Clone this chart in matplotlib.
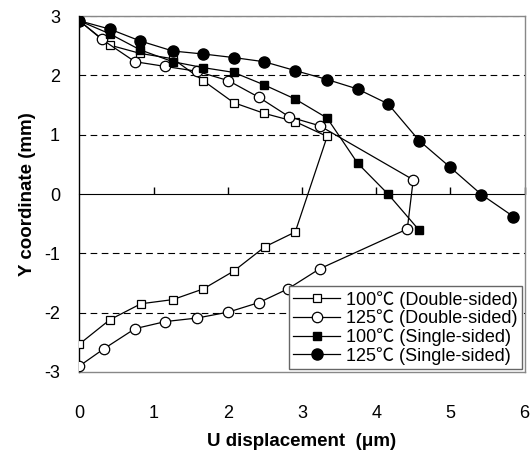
import matplotlib
matplotlib.use("Agg")
import matplotlib.pyplot as plt

plt.rcParams['font.family'] = ['Liberation Sans', 'Noto Sans CJK SC', 'DejaVu Sans']
plt.rcParams['axes.unicode_minus'] = False

# 100 C double-sided (open squares)
x_100d = [0, 0.41, 0.82, 1.26, 1.67, 2.08, 2.49, 2.91, 3.34, 2.91, 2.50, 2.08, 1.67, 1.26, 0.83, 0.41, 0]
y_100d = [2.92, 2.51, 2.37, 2.28, 1.91, 1.54, 1.36, 1.22, 0.97, -0.64, -0.89, -1.30, -1.60, -1.78, -1.85, -2.12, -2.53]

# 125 C double-sided (open circles)
x_125d = [0, 0.30, 0.75, 1.16, 1.58, 2.01, 2.42, 2.83, 3.24, 4.50, 4.42, 3.24, 2.81, 2.42, 2.01, 1.59, 1.16, 0.75, 0.33, 0]
y_125d = [2.92, 2.61, 2.23, 2.15, 2.07, 1.91, 1.63, 1.30, 1.15, 0.24, -0.59, -1.26, -1.60, -1.83, -1.99, -2.09, -2.15, -2.27, -2.61, -2.90]

# 100 C single-sided (filled squares)
x_100s = [0, 0.41, 0.82, 1.26, 1.67, 2.08, 2.49, 2.91, 3.34, 3.75, 4.16, 4.58]
y_100s = [2.92, 2.70, 2.43, 2.23, 2.13, 2.05, 1.84, 1.60, 1.28, 0.52, 0.0, -0.61]

# 125 C single-sided (filled circles)
x_125s = [0, 0.41, 0.82, 1.26, 1.67, 2.08, 2.49, 2.91, 3.34, 3.75, 4.16, 4.58, 4.99, 5.42, 5.85]
y_125s = [2.92, 2.78, 2.58, 2.41, 2.36, 2.30, 2.23, 2.08, 1.93, 1.77, 1.52, 0.90, 0.46, -0.01, -0.38]

labels = ["100\u2103 (Double-sided)", "125\u2103 (Double-sided)",
          "100\u2103 (Single-sided)", "125\u2103 (Single-sided)"]

fig = plt.figure(figsize=(5.31, 4.58), dpi=100)
ax = fig.add_axes([0.1494, 0.1878, 0.8384, 0.7772])

for yv in [-2, -1, 1, 2, 3]:
    ax.axhline(yv, color="#555555" if yv == 3 else "black", lw=0.8,
               dashes=(6, 4), zorder=1)

lw = 0.9
ax.plot(x_100d, y_100d, color="black", lw=lw, marker="s", ms=5.5,
        mfc="white", mec="black", mew=0.9, label=labels[0], zorder=3)
ax.plot(x_125d, y_125d, color="black", lw=lw, marker="o", ms=7.5,
        mfc="white", mec="black", mew=0.9, label=labels[1], zorder=3)
ax.plot(x_100s, y_100s, color="black", lw=lw, marker="s", ms=6,
        mfc="black", mec="black", label=labels[2], zorder=4)
ax.plot(x_125s, y_125s, color="black", lw=lw, marker="o", ms=8,
        mfc="black", mec="black", label=labels[3], zorder=4)

ax.set_xlim(0, 6)
ax.set_ylim(-3, 3)
ax.set_xticks(range(0, 7))
ax.set_yticks(range(-3, 4))

for side in ["top", "right", "bottom"]:
    ax.spines[side].set_color("#888888")
    ax.spines[side].set_linewidth(1)
ax.spines["left"].set_color("black")
ax.spines["left"].set_linewidth(1)

ax.tick_params(axis="x", length=0, pad=24, labelsize=13)
ax.tick_params(axis="y", length=0, pad=14, labelsize=13)

# horizontal axis line crossing at y = 0, with ticks below it
sec = ax.secondary_xaxis(0.5)
sec.spines["bottom"].set_color("black")
sec.spines["bottom"].set_linewidth(1)
sec.set_xticks(range(1, 7))
sec.set_xticklabels([])
sec.tick_params(axis="x", direction="out", length=5, width=1,
                labelbottom=False, labeltop=False)

ax.set_xlabel("U displacement  (\u03bcm)", fontsize=13.5, fontweight="bold", labelpad=8)
ax.set_ylabel("Y coordinate (mm)", fontsize=13.5, fontweight="bold", labelpad=6)

leg = ax.legend(loc="lower right", fontsize=13, frameon=True, fancybox=False,
                edgecolor="#666666", framealpha=1, borderpad=0.25,
                labelspacing=0.05, handlelength=2.6, handletextpad=0.3,
                borderaxespad=0.15)
leg.get_frame().set_linewidth(1)

fig.savefig("out.png", dpi=100)
